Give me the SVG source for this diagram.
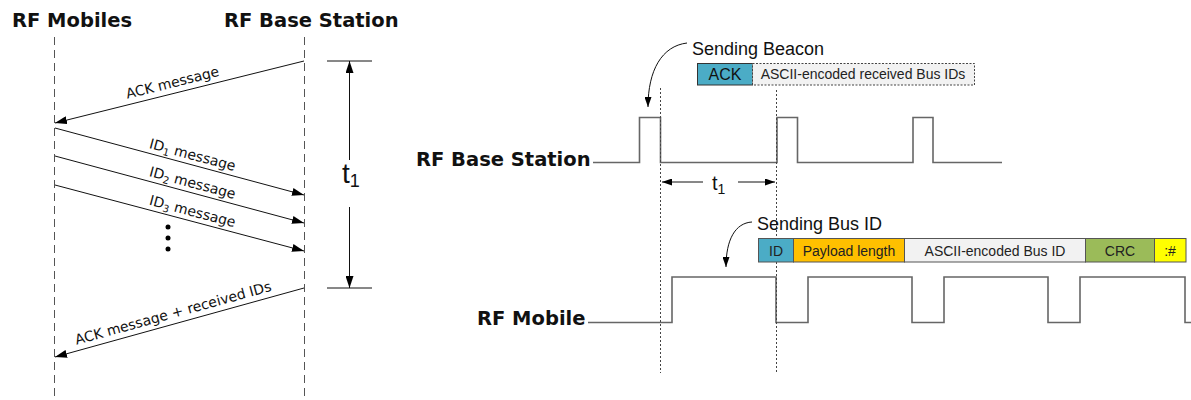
<svg xmlns="http://www.w3.org/2000/svg" width="1191" height="400" viewBox="0 0 1191 400">
<style>
.title{font-family:"DejaVu Sans",Verdana,sans-serif;font-weight:bold;font-size:19.5px;fill:#111}
.lbl{font-family:"DejaVu Sans",Verdana,sans-serif;font-size:14px;fill:#111}
.big{font-family:"Liberation Sans",Arial,sans-serif;font-size:18px;fill:#111}
.box{font-family:"Liberation Sans",Arial,sans-serif;font-size:14px;fill:#222}
.life{stroke:#555;stroke-width:1;stroke-dasharray:8,5;fill:none}
.msg{stroke:#111;stroke-width:1;fill:none;marker-end:url(#ah)}
.sig{stroke:#666;stroke-width:1.6;fill:none}
.dot{stroke:#444;stroke-width:1;stroke-dasharray:2,2;fill:none}
.thin{stroke:#111;stroke-width:1;fill:none}
.cell{stroke:#555;stroke-width:1}
</style>
<defs>
<marker id="ah" viewBox="0 0 12 8" refX="12" refY="4" markerWidth="12" markerHeight="8" markerUnits="userSpaceOnUse" orient="auto-start-reverse"><path d="M0,0 L12,4 L0,8 z" fill="#000"/></marker>
<marker id="ahs" viewBox="0 0 10 7" refX="10" refY="3.5" markerWidth="10" markerHeight="7" markerUnits="userSpaceOnUse" orient="auto-start-reverse"><path d="M0,0 L10,3.5 L0,7 z" fill="#000"/></marker>
</defs>
<rect width="1191" height="400" fill="#fff"/>

<!-- Sequence diagram -->
<g id="mobiles">
<text class="title" x="12" y="27">RF Mobiles</text>
<line class="life" x1="54.5" y1="37" x2="54.5" y2="400"/>
</g>
<g id="basestation">
<text class="title" x="224" y="27">RF Base Station</text>
<line class="life" x1="304.5" y1="37" x2="304.5" y2="400"/>
</g>
<g id="messages">
<line class="msg" x1="304" y1="61" x2="55" y2="123"/>
<text class="lbl" text-anchor="middle" transform="translate(175,93.1) rotate(-13.98)" y="-6">ACK message</text>
<line class="msg" x1="55" y1="128" x2="304" y2="195"/>
<text class="lbl" text-anchor="middle" transform="translate(190,164.3) rotate(15.06)" y="-5">ID<tspan font-size="10" dy="3">1</tspan><tspan dy="-3"> message</tspan></text>
<line class="msg" x1="55" y1="156" x2="304" y2="223"/>
<text class="lbl" text-anchor="middle" transform="translate(190,192.3) rotate(15.06)" y="-5">ID<tspan font-size="10" dy="3">2</tspan><tspan dy="-3"> message</tspan></text>
<line class="msg" x1="55" y1="185" x2="304" y2="251"/>
<text class="lbl" text-anchor="middle" transform="translate(190,220.8) rotate(14.85)" y="-5">ID<tspan font-size="10" dy="3">3</tspan><tspan dy="-3"> message</tspan></text>
<line class="msg" x1="304" y1="288" x2="55" y2="357"/>
<text class="lbl" text-anchor="middle" transform="translate(176,323.5) rotate(-15.49)" y="-6">ACK message + received IDs</text>
<circle cx="168" cy="227" r="2.5" fill="#000"/>
<circle cx="168" cy="238" r="2.5" fill="#000"/>
<circle cx="168" cy="249" r="2.5" fill="#000"/>
</g>
<g id="t1-left">
<line class="thin" x1="327" y1="61" x2="372" y2="61"/>
<line class="thin" x1="327" y1="288" x2="372" y2="288"/>
<line class="thin" x1="349.5" y1="160" x2="349.5" y2="61" marker-end="url(#ah)"/>
<line class="thin" x1="349.5" y1="207" x2="349.5" y2="288" marker-end="url(#ah)"/>
<text x="342" y="183" font-family="Liberation Sans, Arial, sans-serif" font-size="28" fill="#111">t<tspan font-size="18" dy="4">1</tspan></text>
</g>

<!-- Timing diagram -->
<g id="base-signal">
<text class="title" x="416" y="166">RF Base Station</text>
<polyline class="sig" points="593,162.5 639.5,162.5 639.5,117.5 660.5,117.5 660.5,162.5 777,162.5 777,117.5 797.5,117.5 797.5,162.5 913,162.5 913,117.5 933,117.5 933,162.5 1002,162.5"/>
</g>
<g id="mobile-signal">
<text class="title" x="477" y="325">RF Mobile</text>
<polyline class="sig" points="588,322.5 672,322.5 672,277 776,277 776,322.5 808,322.5 808,277 912,277 912,322.5 944,322.5 944,277 1048,277 1048,322.5 1080,322.5 1080,277 1185,277 1185,322.5 1191,322.5"/>
</g>
<g id="markers">
<line class="dot" x1="660.5" y1="88" x2="660.5" y2="373"/>
<line class="dot" x1="776.5" y1="90" x2="776.5" y2="373"/>
<line class="thin" x1="703" y1="182" x2="662" y2="182" marker-end="url(#ahs)"/>
<line class="thin" x1="738" y1="182" x2="775" y2="182" marker-end="url(#ahs)"/>
<text x="712" y="190" font-family="Liberation Sans, Arial, sans-serif" font-size="20" fill="#111">t<tspan font-size="14" dy="4">1</tspan></text>
</g>
<g id="beacon-frame">
<text class="big" x="692" y="55">Sending Beacon</text>
<path class="thin" d="M687,43 C662,46 648,70 648,107" marker-end="url(#ahs)"/>
<rect x="697.5" y="63.5" width="55" height="21.5" fill="#4bacc6" stroke="#333" stroke-width="1"/>
<text x="725" y="80" text-anchor="middle" font-family="Liberation Sans, Arial, sans-serif" font-size="16" fill="#111">ACK</text>
<rect x="752.5" y="63.5" width="222" height="21.5" fill="#f2f2f2" stroke="#444" stroke-width="1" stroke-dasharray="2,1.5"/>
<text class="box" x="863" y="79" text-anchor="middle">ASCII-encoded received Bus IDs</text>
</g>
<g id="busid-frame">
<text class="big" x="757" y="230">Sending Bus ID</text>
<path class="thin" d="M752,222 C735,223 726,240 726,267" marker-end="url(#ahs)"/>
<rect class="cell" x="758.5" y="238.5" width="35" height="23.5" fill="#4bacc6"/>
<rect class="cell" x="793.5" y="238.5" width="111" height="23.5" fill="#ffc000"/>
<rect class="cell" x="904.5" y="238.5" width="181" height="23.5" fill="#f2f2f2"/>
<rect class="cell" x="1085.5" y="238.5" width="69" height="23.5" fill="#9bbb59"/>
<rect class="cell" x="1154.5" y="238.5" width="31.5" height="23.5" fill="#ffff00"/>
<text class="box" x="776" y="256" text-anchor="middle" font-size="16">ID</text>
<text class="box" x="849" y="255.5" text-anchor="middle" font-size="14.5">Payload length</text>
<text class="box" x="995" y="255.5" text-anchor="middle" font-size="14.5">ASCII-encoded Bus ID</text>
<text class="box" x="1120" y="255.5" text-anchor="middle" font-size="14.5">CRC</text>
<text class="box" x="1170" y="255.5" text-anchor="middle" font-size="14.5">:#</text>
</g>
</svg>
